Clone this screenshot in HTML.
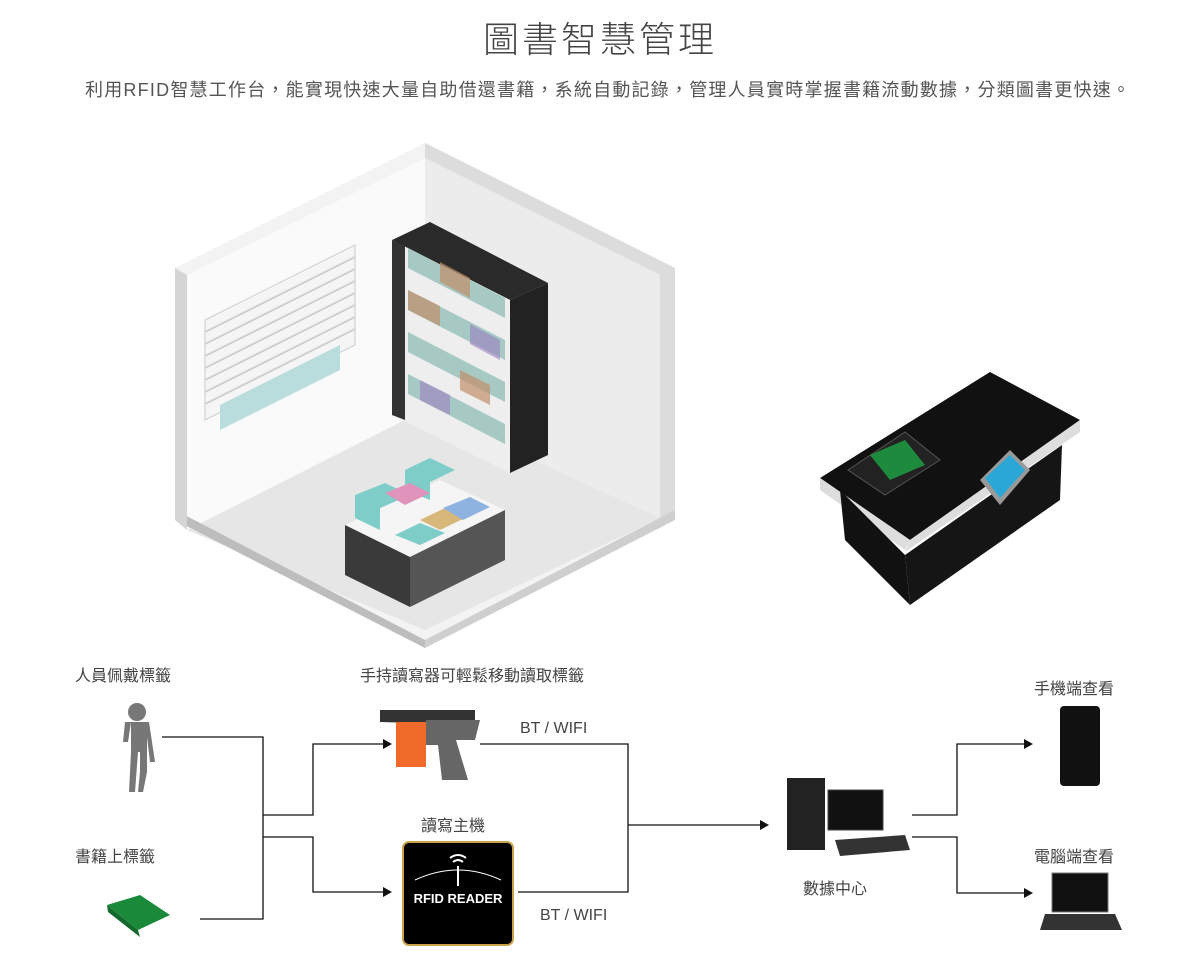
<!DOCTYPE html>
<html><head><meta charset="utf-8"><style>
body{margin:0;width:1200px;height:954px;background:#fff;overflow:hidden;font-family:"Liberation Sans","Noto Sans CJK TC",sans-serif;}
svg text{font-family:"Liberation Sans","Noto Sans CJK TC",sans-serif;}
</style></head><body>
<svg width="1200" height="954" viewBox="0 0 1200 954">
<text x="600" y="52" text-anchor="middle" font-size="36" fill="#444" letter-spacing="3" font-weight="300">圖書智慧管理</text>
<text x="85" y="96" font-size="18" fill="#555" textLength="1045" lengthAdjust="spacing">利用RFID智慧工作台，能實現快速大量自助借還書籍，系統自動記錄，管理人員實時掌握書籍流動數據，分類圖書更快速。</text>
<!-- room -->
<polygon points="175,268 425,143 675,268 675,510 425,640 175,510" fill="#f3f3f3"/>
<polygon points="425,143 675,268 675,510 660,518 660,275 425,158" fill="#dcdcdc"/>
<polygon points="187,275 425,158 425,410 187,530" fill="#fafafa"/>
<polygon points="425,158 660,275 660,518 425,410" fill="#ececec"/>
<polygon points="187,530 425,410 660,518 425,630" fill="#e6e6e6"/>
<polygon points="175,510 425,640 425,648 175,520" fill="#bdbdbd"/>
<polygon points="425,640 675,510 675,520 425,648" fill="#cfcfcf"/>
<polygon points="175,268 187,275 187,530 175,520" fill="#d5d5d5"/>
<!-- window -->
<polygon points="205,320 355,245 355,345 205,420" fill="#f5f5f5" stroke="#ccc"/>
<g stroke="#d0d0d0" stroke-width="2">
<line x1="205" y1="332" x2="355" y2="257"/><line x1="205" y1="344" x2="355" y2="269"/><line x1="205" y1="356" x2="355" y2="281"/><line x1="205" y1="368" x2="355" y2="293"/><line x1="205" y1="380" x2="355" y2="305"/><line x1="205" y1="392" x2="355" y2="317"/><line x1="205" y1="404" x2="355" y2="329"/></g>
<polygon points="220,405 340,345 340,370 220,430" fill="#b9dcdc"/>
<!-- shelf -->
<polygon points="392,240 430,222 548,283 510,300" fill="#2a2a2a"/>
<polygon points="510,300 548,283 548,455 510,473" fill="#222"/>
<polygon points="392,240 510,300 510,473 392,415" fill="#eee"/>
<polygon points="392,240 405,246 405,420 392,415" fill="#333"/>
<g fill="#a7c9c4"><polygon points="408,248 505,298 505,318 408,268"/><polygon points="408,290 505,340 505,360 408,310"/><polygon points="408,332 505,382 505,402 408,352"/><polygon points="408,374 505,424 505,444 408,394"/></g>
<g fill="#c28f6a" opacity=".7"><polygon points="440,262 470,278 470,298 440,282"/><polygon points="408,290 440,306 440,326 408,310"/><polygon points="460,370 490,385 490,405 460,390"/></g>
<g fill="#9b7fc2" opacity=".6"><polygon points="470,324 500,340 500,360 470,344"/><polygon points="420,380 450,395 450,415 420,400"/></g>
<!-- table -->
<polygon points="345,525 440,480 505,510 410,557" fill="#f5f5f5"/>
<polygon points="345,525 410,557 410,607 345,575" fill="#3a3a3a"/>
<polygon points="410,557 505,510 505,560 410,607" fill="#555"/>
<polygon points="355,495 385,483 410,495 380,508 380,530 355,518" fill="#7ecdc9"/>
<polygon points="405,470 430,458 455,470 430,482 430,500 405,490" fill="#7ecdc9"/>
<polygon points="385,493 410,483 430,493 405,505" fill="#e093bb"/>
<polygon points="420,520 445,508 465,518 440,530" fill="#d8b77a"/>
<polygon points="443,508 470,497 490,507 463,520" fill="#8fb3e0"/>
<polygon points="395,535 420,523 445,533 420,545" fill="#7ecdc9"/>
<!-- workstation -->
<polygon points="820,478 990,372 1080,420 910,540" fill="#111"/>
<polygon points="820,478 910,540 905,550 820,490" fill="#ddd"/>
<polygon points="910,540 1080,420 1080,432 905,552" fill="#ddd"/>
<polygon points="840,490 905,555 910,605 845,540" fill="#111"/>
<polygon points="905,555 1062,445 1060,500 910,605" fill="#151515"/>
<polygon points="848,470 905,432 940,460 885,495" fill="#222" stroke="#555"/>
<polygon points="870,455 905,440 925,465 890,480" fill="#1e8a3e"/>
<polygon points="980,480 1010,450 1030,470 1000,505" fill="#999"/>
<polygon points="985,478 1010,455 1025,470 1000,498" fill="#2aa7d6"/>
<!-- bottom labels -->
<g font-size="16" fill="#444">
<text x="75" y="681">人員佩戴標籤</text>
<text x="75" y="862">書籍上標籤</text>
<text x="360" y="681">手持讀寫器可輕鬆移動讀取標籤</text>
<text x="421" y="831">讀寫主機</text>
<text x="803" y="894">數據中心</text>
<text x="1034" y="694">手機端查看</text>
<text x="1034" y="862">電腦端查看</text>
<text x="520" y="733" font-size="16">BT / WIFI</text>
<text x="540" y="920" font-size="16">BT / WIFI</text>
</g>
<!-- person -->
<g fill="#777"><circle cx="137" cy="712" r="9"/><path d="M125,722 h24 l6,40 h-5 l-3,-25 v35 l-4,20 h-5 l2,-20 v-20 h-2 l-3,40 h-6 l2,-40 v-30 l-3,20 h-5z"/></g>
<!-- book -->
<polygon points="107,905 140,895 170,915 138,930" fill="#1a8a3a"/><polygon points="107,905 138,930 140,937 108,912" fill="#146a2c"/>
<!-- handheld -->
<polygon points="380,710 475,710 475,725 380,722" fill="#333"/>
<rect x="396" y="722" width="30" height="45" fill="#f06a2a"/>
<polygon points="426,720 480,720 475,740 456,740 468,780 442,780 438,745 426,745" fill="#666"/>
<!-- reader -->
<rect x="403" y="842" width="110" height="103" rx="6" fill="#000" stroke="#c9a24a" stroke-width="2"/>
<text x="458" y="903" text-anchor="middle" font-size="13" font-weight="bold" fill="#fff">RFID READER</text>
<path d="M450,858 q8,-6 16,0 M453,862 q5,-4 10,0" stroke="#fff" fill="none" stroke-width="2"/>
<line x1="458" y1="866" x2="458" y2="886" stroke="#fff" stroke-width="2"/>
<path d="M415,880 q43,-20 86,0" stroke="#fff" fill="none"/>
<!-- data center -->
<rect x="787" y="778" width="38" height="72" fill="#222"/>
<rect x="828" y="790" width="55" height="40" fill="#111" stroke="#444"/>
<polygon points="835,840 905,835 910,850 840,856" fill="#333"/>
<!-- phone -->
<rect x="1060" y="706" width="40" height="80" rx="4" fill="#111"/>
<!-- laptop -->
<polygon points="1052,873 1108,873 1108,912 1052,912" fill="#111" stroke="#777"/>
<polygon points="1045,914 1115,914 1122,930 1040,930" fill="#333"/>
<!-- connectors -->
<g stroke="#111" stroke-width="1.3" fill="none">
<polyline points="162,737 263,737 263,919 200,919"/>
<polyline points="263,815 313,815 313,744 385,744"/>
<polyline points="263,837 313,837 313,892 385,892"/>
<polyline points="480,744 628,744 628,892 518,892"/>
<line x1="628" y1="825" x2="762" y2="825"/>
<polyline points="912,815 957,815 957,744 1026,744"/>
<polyline points="912,837 957,837 957,893 1026,893"/>
</g>
<g fill="#111">
<polygon points="383,739 392,744 383,749"/><polygon points="383,887 392,892 383,897"/>
<polygon points="760,820 769,825 760,830"/><polygon points="1024,739 1033,744 1024,749"/><polygon points="1024,888 1033,893 1024,898"/>
</g>
</svg>
</body></html>
